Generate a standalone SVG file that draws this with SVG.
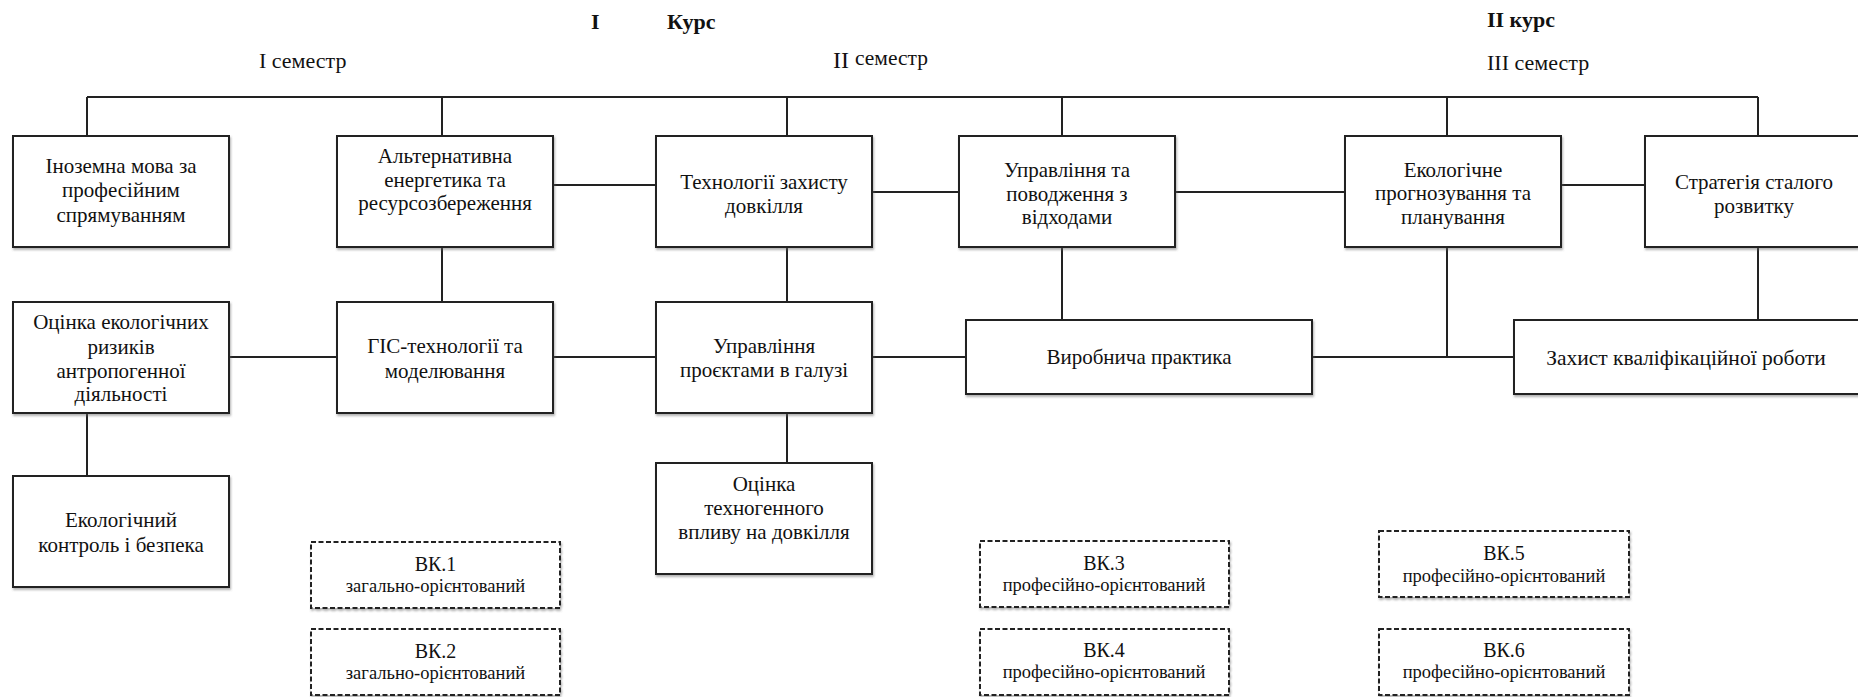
<svg xmlns="http://www.w3.org/2000/svg" width="1858" height="697" viewBox="0 0 1858 697">
<style>
  text { font-family: "Liberation Serif", "Times New Roman", serif; fill: #111; }
  .t { font-size: 21px; text-anchor: middle; }
  .h { font-size: 22px; }
  .hb { font-size: 22px; font-weight: bold; }
  .bk { font-size: 20px; text-anchor: middle; }
  .bks { font-size: 18.5px; text-anchor: middle; }
  .box { fill: #fff; stroke: #222; stroke-width: 2; filter: url(#sh); }
  .dbox { fill: #fff; stroke: #222; stroke-width: 2; stroke-dasharray: 5 2.5; filter: url(#sh); }
  .ln { stroke: #222; stroke-width: 2; fill: none; }
</style>
<defs>
  <filter id="sh" x="-5%" y="-5%" width="110%" height="120%">
    <feDropShadow dx="1" dy="2" stdDeviation="1" flood-color="#666" flood-opacity="0.5"/>
  </filter>
</defs>
<rect width="1858" height="697" fill="#fff"/>

<g id="titles">
  <text class="hb" x="591" y="29">I</text>
  <text class="hb" x="667" y="29">Курс</text>
  <text class="hb" x="1487" y="27">II курс</text>
  <text class="h" x="259" y="68">I семестр</text>
  <text x="833" y="68" style="font-size:24px">II</text>
  <text x="855" y="65" style="font-size:21.5px">семестр</text>
  <text class="h" x="1487" y="70">III семестр</text>
</g>

<g id="connectors">
  <path class="ln" d="M87 97 H1758"/>
  <path class="ln" d="M87 97 V136 M442 97 V136 M787 97 V136 M1062 97 V136 M1447 97 V136 M1758 97 V136"/>
  <path class="ln" d="M553 185 H656 M872 192 H959 M1175 192 H1345 M1561 185 H1645"/>
  <path class="ln" d="M229 357 H337 M553 357 H656 M872 357 H966 M1312 357 H1514"/>
  <path class="ln" d="M442 247 V302 M787 247 V302 M1062 247 V320 M1447 247 V357 M1758 247 V320"/>
  <path class="ln" d="M87 413 V476 M787 413 V463"/>
</g>

<g id="n1"><rect class="box" x="13" y="136" width="216" height="111"/>
  <text class="t" x="121" y="173">Іноземна мова за</text>
  <text class="t" x="121" y="197">професійним</text>
  <text class="t" x="121" y="222">спрямуванням</text></g>
<g id="n2"><rect class="box" x="337" y="136" width="216" height="111"/>
  <text class="t" x="445" y="163">Альтернативна</text>
  <text class="t" x="445" y="187">енергетика та</text>
  <text class="t" x="445" y="210">ресурсозбереження</text></g>
<g id="n3"><rect class="box" x="656" y="136" width="216" height="111"/>
  <text class="t" x="764" y="189">Технології захисту</text>
  <text class="t" x="764" y="213">довкілля</text></g>
<g id="n4"><rect class="box" x="959" y="136" width="216" height="111"/>
  <text class="t" x="1067" y="177">Управління та</text>
  <text class="t" x="1067" y="201">поводження з</text>
  <text class="t" x="1067" y="224">відходами</text></g>
<g id="n5"><rect class="box" x="1345" y="136" width="216" height="111"/>
  <text class="t" x="1453" y="177">Екологічне</text>
  <text class="t" x="1453" y="200">прогнозування та</text>
  <text class="t" x="1453" y="224">планування</text></g>
<g id="n6"><rect class="box" x="1645" y="136" width="222" height="111"/>
  <text class="t" x="1754" y="189">Стратегія сталого</text>
  <text class="t" x="1754" y="213">розвитку</text></g>

<g id="n7"><rect class="box" x="13" y="302" width="216" height="111"/>
  <text class="t" x="121" y="329">Оцінка екологічних</text>
  <text class="t" x="121" y="354">ризиків</text>
  <text class="t" x="121" y="378">антропогенної</text>
  <text class="t" x="121" y="401">діяльності</text></g>
<g id="n8"><rect class="box" x="337" y="302" width="216" height="111"/>
  <text class="t" x="445" y="353">ГІС-технології та</text>
  <text class="t" x="445" y="378">моделювання</text></g>
<g id="n9"><rect class="box" x="656" y="302" width="216" height="111"/>
  <text class="t" x="764" y="353">Управління</text>
  <text class="t" x="764" y="377">проєктами в галузі</text></g>
<g id="n10"><rect class="box" x="966" y="320" width="346" height="74"/>
  <text class="t" x="1139" y="364">Виробнича практика</text></g>
<g id="n11"><rect class="box" x="1514" y="320" width="354" height="74"/>
  <text class="t" x="1686" y="365" style="font-size:21.5px">Захист кваліфікаційної роботи</text></g>

<g id="n12"><rect class="box" x="13" y="476" width="216" height="111"/>
  <text class="t" x="121" y="527">Екологічний</text>
  <text class="t" x="121" y="552">контроль і безпека</text></g>
<g id="n13"><rect class="box" x="656" y="463" width="216" height="111"/>
  <text class="t" x="764" y="491">Оцінка</text>
  <text class="t" x="764" y="515">техногенного</text>
  <text class="t" x="764" y="539">впливу на довкілля</text></g>

<g id="bk1"><rect class="dbox" x="311" y="542" width="249" height="66"/>
  <text class="bk" x="435.5" y="571">ВК.1</text>
  <text class="bks" x="435.5" y="592">загально-орієнтований</text></g>
<g id="bk2"><rect class="dbox" x="311" y="629" width="249" height="66"/>
  <text class="bk" x="435.5" y="658">ВК.2</text>
  <text class="bks" x="435.5" y="679">загально-орієнтований</text></g>
<g id="bk3"><rect class="dbox" x="980" y="541" width="249" height="66"/>
  <text class="bk" x="1104" y="570">ВК.3</text>
  <text class="bks" x="1104" y="591">професійно-орієнтований</text></g>
<g id="bk4"><rect class="dbox" x="980" y="629" width="249" height="66"/>
  <text class="bk" x="1104" y="657">ВК.4</text>
  <text class="bks" x="1104" y="678">професійно-орієнтований</text></g>
<g id="bk5"><rect class="dbox" x="1379" y="531" width="250" height="66"/>
  <text class="bk" x="1504" y="560">ВК.5</text>
  <text class="bks" x="1504" y="582">професійно-орієнтований</text></g>
<g id="bk6"><rect class="dbox" x="1379" y="629" width="250" height="66"/>
  <text class="bk" x="1504" y="657">ВК.6</text>
  <text class="bks" x="1504" y="678">професійно-орієнтований</text></g>
</svg>
